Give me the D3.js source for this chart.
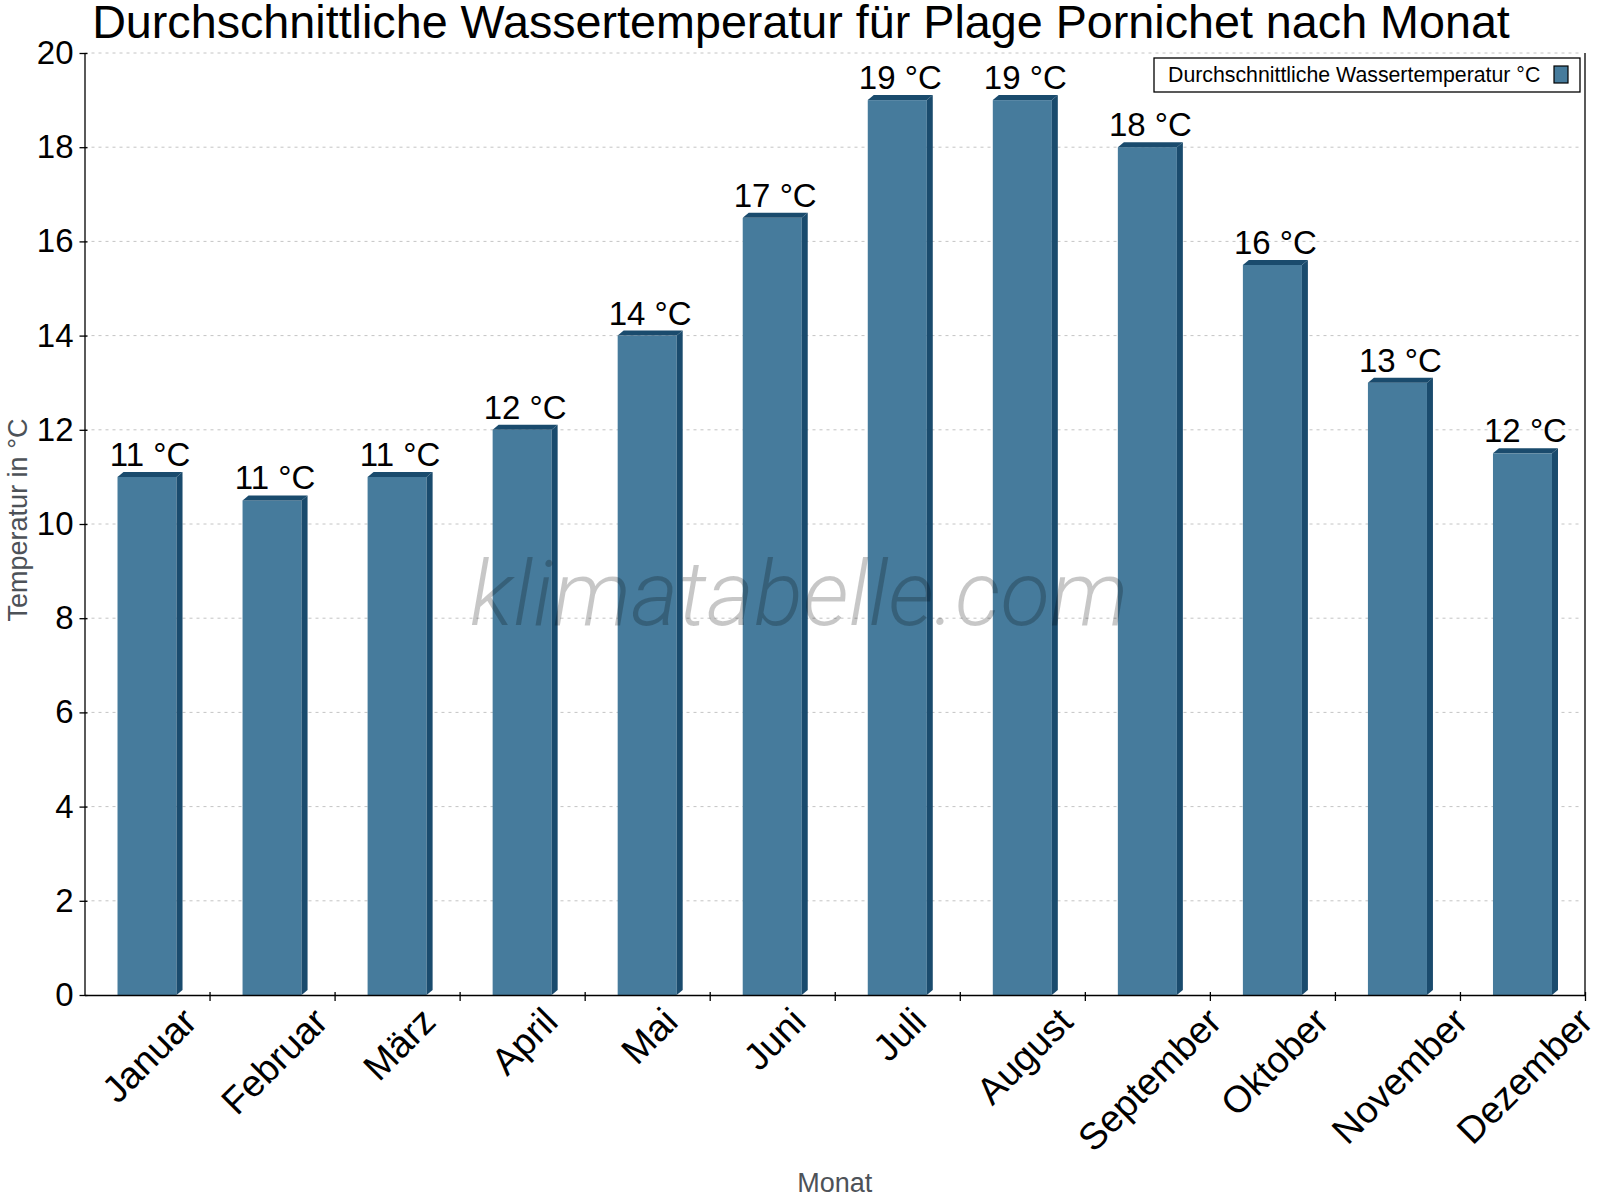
<!DOCTYPE html>
<html>
<head>
<meta charset="utf-8">
<script src="https://cdn.jsdelivr.net/npm/d3@7"></script>
<style>
  body { margin: 0; background: #fff; }
  svg { font-family: "Liberation Sans", Arial, sans-serif; }
</style>
</head>
<body>
<svg id="chart" width="1600" height="1200"></svg>
<script>
const months = ["Januar", "Februar", "März", "April", "Mai", "Juni", "Juli",
  "August", "September", "Oktober", "November", "Dezember"];
const waterTemp = [11, 10.5, 11, 12, 14, 16.5, 19, 19, 18, 15.5, 13, 11.5];
const yTicks = [0, 2, 4, 6, 8, 10, 12, 14, 16, 18, 20];
const seriesName = "Durchschnittliche Wassertemperatur °C";
const titleText = "Durchschnittliche Wassertemperatur für Plage Pornichet nach Monat";

const plotLeft = 84.5, plotRight = 1585, plotTop = 53, plotBottom = 995;
const depthX = 6, depthY = 5;
const frontColor = "#467b9c";
const darkColor = "#1a4b6d";

const svg = d3.select("#chart");

const x = d3.scaleBand()
  .domain(months)
  .range([plotLeft, plotRight])
  .paddingInner(0.528)
  .paddingOuter(0.264);

const y = d3.scaleLinear().domain([0, 20]).range([plotBottom, plotTop]);

// gridlines
svg.append("g")
  .selectAll("line")
  .data(yTicks.filter(d => d > 0))
  .join("line")
  .attr("x1", plotLeft)
  .attr("x2", plotRight - 4)
  .attr("y1", d => y(d))
  .attr("y2", d => y(d))
  .attr("stroke", "#c4c4c4")
  .attr("stroke-dasharray", "3,4");

// bars (front, top, side)
const bars = svg.append("g")
  .selectAll("g.bar")
  .data(waterTemp)
  .join("g")
  .attr("class", "bar");

bars.append("rect")
  .attr("x", (d, i) => x(months[i]))
  .attr("y", d => y(d))
  .attr("width", x.bandwidth())
  .attr("height", d => y(0) - y(d))
  .attr("fill", frontColor);

bars.append("path")
  .attr("fill", darkColor)
  .attr("d", (d, i) => {
    const x0 = x(months[i]), x1 = x0 + x.bandwidth(), yt = y(d);
    return `M${x0},${yt} L${x0 + depthX},${yt - depthY} L${x1 + depthX},${yt - depthY} L${x1},${yt} Z`;
  });

bars.append("path")
  .attr("fill", darkColor)
  .attr("d", (d, i) => {
    const x1 = x(months[i]) + x.bandwidth(), yt = y(d);
    return `M${x1},${yt} L${x1 + depthX},${yt - depthY} L${x1 + depthX},${y(0) - depthY} L${x1},${y(0)} Z`;
  });

// watermark
svg.append("text")
  .attr("x", 799)
  .attr("y", 625)
  .attr("text-anchor", "middle")
  .style("font-family", "Roboto, 'Open Sans', sans-serif")
  .style("font-weight", 300)
  .style("font-style", "italic")
  .style("font-size", "91px")
  .attr("fill", "#000")
  .attr("fill-opacity", 0.22)
  .text("klimatabelle.com");

// value labels
bars.append("text")
  .attr("x", (d, i) => x(months[i]) + x.bandwidth() / 2 + depthX / 2)
  .attr("y", d => y(d) - 11)
  .attr("text-anchor", "middle")
  .style("font-size", "33px")
  .attr("fill", "#000")
  .text(d => `${Math.round(d)} °C`);

// y axis
const yAxis = svg.append("g")
  .attr("transform", `translate(${plotLeft},0)`)
  .call(d3.axisLeft(y).tickValues(yTicks).tickSizeInner(5).tickSizeOuter(0).tickPadding(6));
yAxis.select(".domain").attr("stroke", "#000").attr("stroke-width", 1.3);
yAxis.selectAll(".tick line").attr("x1", 3).attr("stroke", "#000").attr("stroke-width", 1.3);
yAxis.selectAll(".tick text")
  .style("font-size", "33px")
  .style("font-family", "'Liberation Sans', Arial, sans-serif")
  .attr("fill", "#000");

// x axis: ticks at band boundaries
const xb = d3.scaleLinear().domain([0, months.length]).range([plotLeft, plotRight]);
const xAxis = svg.append("g")
  .attr("transform", `translate(0,${plotBottom})`)
  .call(d3.axisBottom(xb).tickValues(d3.range(1, months.length + 1)).tickFormat("").tickSizeInner(6).tickSizeOuter(0));
xAxis.select(".domain").attr("stroke", "#000").attr("stroke-width", 1.3);
xAxis.selectAll(".tick line").attr("y1", -3).attr("stroke", "#000").attr("stroke-width", 1.3);

// right border
svg.append("line")
  .attr("x1", plotRight).attr("x2", plotRight)
  .attr("y1", plotTop).attr("y2", plotBottom)
  .attr("stroke", "#000")
  .attr("stroke-width", 1.3);

// rotated month labels, top of rotated box at fixed offset below axis
const labelSize = 37.5;
const labelTop = 1005;
svg.append("g")
  .selectAll("text")
  .data(months)
  .join("text")
  .attr("text-anchor", "middle")
  .attr("dy", "0.35em")
  .style("font-size", labelSize + "px")
  .attr("fill", "#000")
  .text(d => d)
  .attr("transform", function (d) {
    const len = this.getComputedTextLength();
    const ext = (len + 0.72 * labelSize) * Math.SQRT1_2;
    const cx = x(d) + x.bandwidth() / 2 + 2;
    return `translate(${cx},${labelTop + ext / 2}) rotate(-45)`;
  });

// axis titles
svg.append("text")
  .attr("transform", `translate(27,${(plotTop + plotBottom) / 2 - 4}) rotate(-90)`)
  .attr("text-anchor", "middle")
  .style("font-size", "27px")
  .attr("fill", "#4d5258")
  .text("Temperatur in °C");

svg.append("text")
  .attr("x", (plotLeft + plotRight) / 2)
  .attr("y", 1192)
  .attr("text-anchor", "middle")
  .style("font-size", "27px")
  .attr("fill", "#4d5258")
  .text("Monat");

// title
svg.append("text")
  .attr("x", 801)
  .attr("y", 38)
  .attr("text-anchor", "middle")
  .style("font-size", "46.7px")
  .attr("fill", "#000")
  .text(titleText);

// legend
const legend = svg.append("g").attr("transform", "translate(1154,58)");
legend.append("rect")
  .attr("width", 426)
  .attr("height", 34)
  .attr("fill", "#fff")
  .attr("stroke", "#000")
  .attr("stroke-width", 1.3);
legend.append("text")
  .attr("x", 14)
  .attr("y", 24)
  .style("font-size", "21.3px")
  .attr("fill", "#000")
  .text(seriesName);
legend.append("rect")
  .attr("x", 400)
  .attr("y", 8)
  .attr("width", 14)
  .attr("height", 17)
  .attr("fill", frontColor)
  .attr("stroke", "#000")
  .attr("stroke-width", 1.2);
</script>
</body>
</html>
